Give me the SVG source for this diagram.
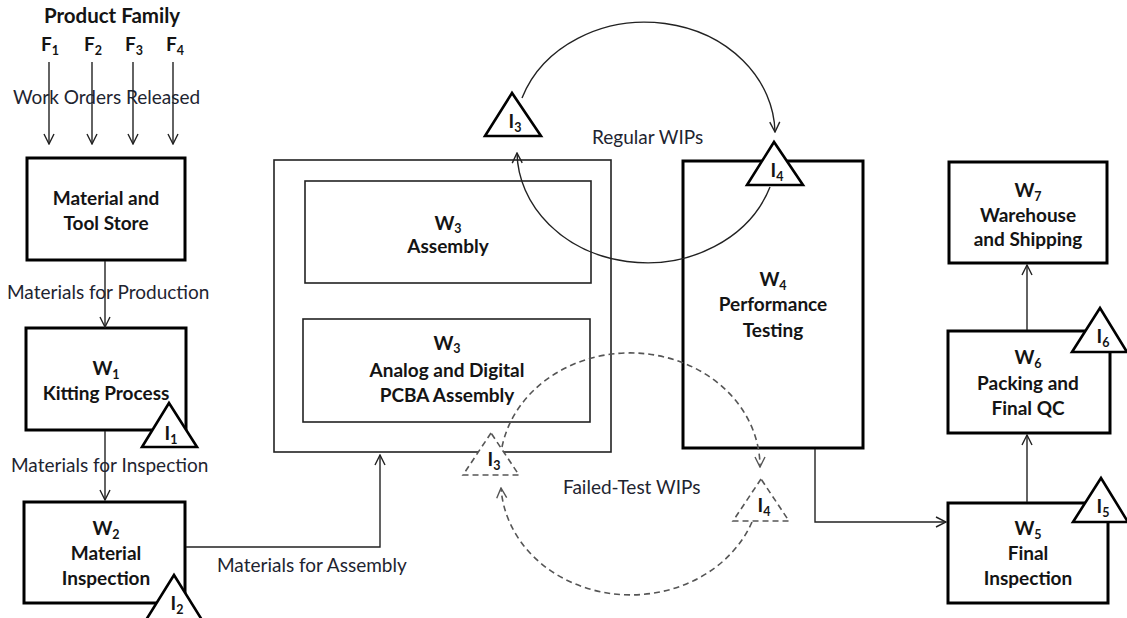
<svg xmlns="http://www.w3.org/2000/svg" width="1127" height="618" viewBox="0 0 1127 618">
  <defs>
    <marker id="open" viewBox="0 0 12 12" refX="11" refY="6" markerWidth="12" markerHeight="12" markerUnits="userSpaceOnUse" orient="auto">
      <path d="M1,1 L11,6 L1,11" fill="none" stroke="#222" stroke-width="1.4"/>
    </marker>
    <marker id="openGray" viewBox="0 0 12 12" refX="11" refY="6" markerWidth="12" markerHeight="12" markerUnits="userSpaceOnUse" orient="auto">
      <path d="M1,1 L11,6 L1,11" fill="none" stroke="#555" stroke-width="1.4"/>
    </marker>
    <style>
      .box { fill: #fff; stroke: #000; stroke-width: 3; }
      .thin { fill: #fff; stroke: #222; stroke-width: 1.6; }
      .tri { fill: #fff; stroke: #000; stroke-width: 2.6; stroke-linejoin: miter; }
      .triDash { fill: #fff; stroke: #555; stroke-width: 1.6; stroke-dasharray: 6 4; }
      .link { fill: none; stroke: #222; stroke-width: 1.4; marker-end: url(#open); }
      .dash { fill: none; stroke: #555; stroke-width: 1.6; stroke-dasharray: 6 4; marker-end: url(#openGray); }
      .b { font-family: Lato, "Liberation Sans", sans-serif; font-weight: bold; font-size: 19px; fill: #141414; text-anchor: middle; }
      .title { font-size: 20.5px; }
      .n { font-family: Lato, "Liberation Sans", sans-serif; font-size: 19px; fill: #1e2430; }
      .sub { font-size: 12.5px; }
    </style>
  </defs>

  <!-- header -->
  <g id="product-family">
    <text class="b title" x="112" y="23">Product Family</text>
    <text class="b" x="50" y="51">F<tspan class="sub" dy="4">1</tspan></text>
    <text class="b" x="93" y="51">F<tspan class="sub" dy="4">2</tspan></text>
    <text class="b" x="134" y="51">F<tspan class="sub" dy="4">3</tspan></text>
    <text class="b" x="175" y="51">F<tspan class="sub" dy="4">4</tspan></text>
  </g>

  <!-- process boxes -->
  <g id="store">
    <rect class="box" x="27" y="158" width="158" height="102"/>
    <text class="b" x="106" y="205">Material and</text>
    <text class="b" x="106" y="230">Tool Store</text>
  </g>
  <g id="w1">
    <rect class="box" x="26" y="328" width="160" height="102"/>
    <text class="b" x="106" y="375">W<tspan class="sub" dy="4">1</tspan></text>
    <text class="b" x="106" y="400">Kitting Process</text>
  </g>
  <g id="w2">
    <rect class="box" x="24" y="502" width="161" height="101"/>
    <text class="b" x="106" y="535">W<tspan class="sub" dy="4">2</tspan></text>
    <text class="b" x="106" y="560">Material</text>
    <text class="b" x="106" y="585">Inspection</text>
  </g>
  <g id="w3">
    <rect class="thin" x="274" y="160" width="337" height="292"/>
    <rect class="thin" x="305" y="181" width="286" height="102"/>
    <text class="b" x="448" y="230">W<tspan class="sub" dy="3">3</tspan></text>
    <text class="b" x="448" y="253">Assembly</text>
    <rect class="thin" x="303" y="319" width="287" height="103"/>
    <text class="b" x="447" y="350">W<tspan class="sub" dy="3">3</tspan></text>
    <text class="b" x="447" y="377">Analog and Digital</text>
    <text class="b" x="447" y="402">PCBA Assembly</text>
  </g>
  <g id="w4">
    <rect class="box" x="683" y="161" width="180" height="287"/>
    <text class="b" x="773" y="286">W<tspan class="sub" dy="4">4</tspan></text>
    <text class="b" x="773" y="311">Performance</text>
    <text class="b" x="773" y="337">Testing</text>
  </g>
  <g id="w5">
    <rect class="box" x="948" y="503" width="160" height="100"/>
    <text class="b" x="1028" y="535">W<tspan class="sub" dy="4">5</tspan></text>
    <text class="b" x="1028" y="560">Final</text>
    <text class="b" x="1028" y="585">Inspection</text>
  </g>
  <g id="w6">
    <rect class="box" x="948" y="331" width="162" height="102"/>
    <text class="b" x="1028" y="364">W<tspan class="sub" dy="4">6</tspan></text>
    <text class="b" x="1028" y="390">Packing and</text>
    <text class="b" x="1028" y="415">Final QC</text>
  </g>
  <g id="w7">
    <rect class="box" x="949" y="162" width="158" height="101"/>
    <text class="b" x="1028" y="197">W<tspan class="sub" dy="4">7</tspan></text>
    <text class="b" x="1028" y="222">Warehouse</text>
    <text class="b" x="1028" y="246">and Shipping</text>
  </g>

  <!-- material and WIP flows -->
  <g id="connectors">
    <path class="link" d="M49,62 V144"/>
    <path class="link" d="M92,62 V144"/>
    <path class="link" d="M133,62 V144"/>
    <path class="link" d="M173,62 V144"/>
    <path class="link" d="M105,261 V327"/>
    <path class="link" d="M105,431 V500"/>
    <path class="link" d="M186,547 H380 V455"/>
    <path class="link" d="M815,449 V522 H946"/>
    <path class="link" d="M1027,502 V435"/>
    <path class="link" d="M1027,330 V265"/>
    <path class="link" d="M522,98 A130,112 0 0 1 775,132"/>
    <path class="link" d="M770,187 A130,112 0 0 1 517,153"/>
    <path class="dash" d="M502,447 A130,114 0 0 1 760,467"/>
    <path class="dash" d="M752,522 A130,114 0 0 1 501,488"/>
  </g>

  <!-- flow labels -->
  <g id="labels">
    <text class="n" x="13" y="104">Work Orders Released</text>
    <text class="n" x="7" y="299">Materials for Production</text>
    <text class="n" x="11" y="472">Materials for Inspection</text>
    <text class="n" x="217" y="572">Materials for Assembly</text>
    <text class="n" x="592" y="144">Regular WIPs</text>
    <text class="n" x="563" y="494">Failed-Test WIPs</text>
  </g>

  <!-- inventory buffers -->
  <g id="i1">
    <polygon class="tri" points="169,403 142,447 197,447"/>
    <text class="b" x="171" y="440">I<tspan class="sub" dy="4">1</tspan></text>
  </g>
  <g id="i2">
    <polygon class="tri" points="174,575 146,620 202,620"/>
    <text class="b" x="177" y="610">I<tspan class="sub" dy="4">2</tspan></text>
  </g>
  <g id="i3">
    <polygon class="tri" points="512,93 485,136 541,136"/>
    <text class="b" x="515" y="128">I<tspan class="sub" dy="4">3</tspan></text>
  </g>
  <g id="i4">
    <polygon class="tri" points="774,142 747,185 803,185"/>
    <text class="b" x="777" y="177">I<tspan class="sub" dy="4">4</tspan></text>
  </g>
  <g id="i3-failed">
    <polygon class="triDash" points="491,433 463,475 519,475"/>
    <text class="b" x="494" y="466">I<tspan class="sub" dy="4">3</tspan></text>
  </g>
  <g id="i4-failed">
    <polygon class="triDash" points="761,479 733,521 789,521"/>
    <text class="b" x="764" y="512">I<tspan class="sub" dy="4">4</tspan></text>
  </g>
  <g id="i5">
    <polygon class="tri" points="1101,478 1073,522 1128,522"/>
    <text class="b" x="1103" y="513">I<tspan class="sub" dy="4">5</tspan></text>
  </g>
  <g id="i6">
    <polygon class="tri" points="1100,308 1072,352 1127,352"/>
    <text class="b" x="1103" y="343">I<tspan class="sub" dy="4">6</tspan></text>
  </g>
</svg>
